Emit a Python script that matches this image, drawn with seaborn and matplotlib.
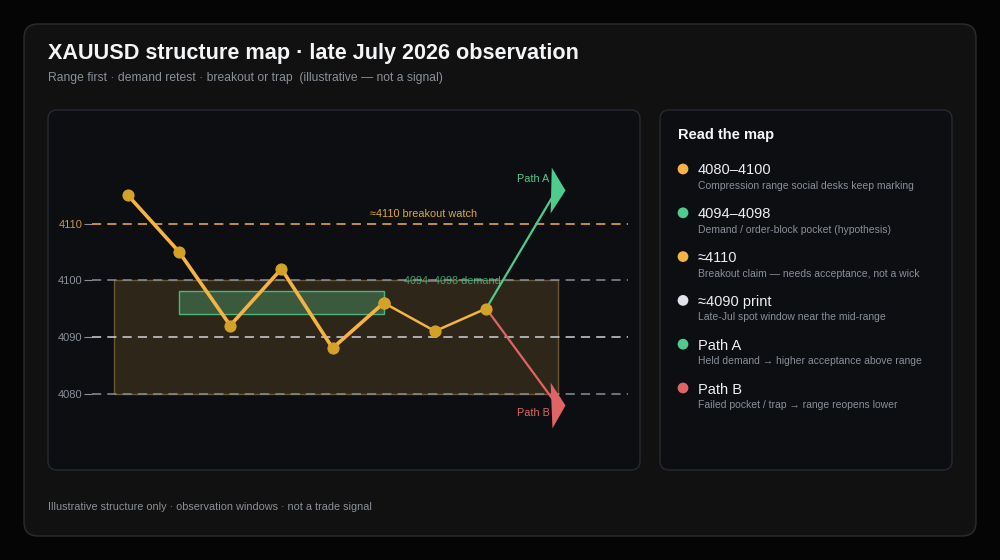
import numpy as np
import pandas as pd
import matplotlib
matplotlib.use("Agg")
import matplotlib.pyplot as plt
from matplotlib.patches import FancyBboxPatch, Rectangle
from matplotlib.path import Path
import seaborn as sns

# ---- data ----
obs_idx = [0, 1, 2, 3, 4, 5, 6, 7]
obs_price = [4115, 4105, 4092, 4102, 4088, 4096, 4091, 4095]
range_low, range_high = 4080, 4100
demand_low, demand_high = 4094, 4098
demand_idx = [1, 5]
breakout_level = 4110
y_ticks = [4080, 4090, 4100, 4110]
path_x = [7, 8.38]
path_a = [4095, 4116]
path_b = [4095, 4078]

legend_titles = ["4080\u20134100", "4094\u20134098", "\u22484110", "\u22484090 print", "Path A", "Path B"]
legend_notes = [
    "Compression range social desks keep marking",
    "Demand / order-block pocket (hypothesis)",
    "Breakout claim \u2014 needs acceptance, not a wick",
    "Late-Jul spot window near the mid-range",
    "Held demand \u2192 higher acceptance above range",
    "Failed pocket / trap \u2192 range reopens lower",
]

# ---- colours ----
ORANGE = "#f5b342"
GOLD = "#d4a229"
GREEN = "#4ecb8d"
RED = "#e06464"
WHITE = "#e0e3ea"
GRAY = "#8a8f99"
legend_colors = [ORANGE, GREEN, ORANGE, WHITE, GREEN, RED]

sns.set_theme(style="dark")
plt.rcParams["font.family"] = ["Liberation Sans", "DejaVu Sans"]

fig = plt.figure(figsize=(10, 5.6), dpi=100)
fig.patch.set_facecolor("#050505")

# background layer in pixel coordinates
bg = fig.add_axes([0, 0, 1, 1])
bg.set_xlim(0, 1000)
bg.set_ylim(560, 0)
bg.axis("off")
bg.set_zorder(0)


def px_box(x0, y0, x1, y1, fc, ec, r=10, lw=1):
    bg.add_patch(FancyBboxPatch((x0, y0), x1 - x0, y1 - y0,
                                boxstyle=f"round,pad=0,rounding_size={r}",
                                facecolor=fc, edgecolor=ec, linewidth=lw))


# card + panels
px_box(24, 24, 976, 536, "#111111", "#2b2d31", r=14)
px_box(48, 110, 640, 470, "#0c0e12", "#262a31", r=9)
px_box(660, 110, 952, 470, "#0c0e12", "#262a31", r=9)

bg.text(48, 54, "XAUUSD structure map \u00b7 late July 2026 observation",
        fontsize=15.6, fontweight="bold", color="#f4f5f7", va="center")
bg.text(48, 77.5,
        "Range first \u00b7 demand retest \u00b7 breakout or trap  (illustrative \u2014 not a signal)",
        fontsize=8.7, color=GRAY, va="center")
bg.text(48, 507.5,
        "Illustrative structure only \u00b7 observation windows \u00b7 not a trade signal",
        fontsize=7.85, color=GRAY, va="center")

# ---- legend panel ----
bg.text(678, 135.5, "Read the map", fontsize=10.5, fontweight="bold",
        color="#f4f5f7", va="center")
for i, (t, n, c) in enumerate(zip(legend_titles, legend_notes, legend_colors)):
    y = 169 + i * 43.8
    bg.scatter([683], [y], s=60, color=c, edgecolors="none")
    bg.text(698, y + 1.5, t, fontsize=10.5, color="#eceef2", va="center")
    bg.text(698, y + 17, n, fontsize=7.45, color=GRAY, va="center")

# ---- chart ----
ax = fig.add_axes([0.092, 1 - 461.5 / 560, 0.536, 340 / 560])
ax.set_zorder(2)
ax.set_facecolor("none")
for s in ax.spines.values():
    s.set_visible(False)
ax.set_xlim(-0.7, 9.77)
ax.set_ylim(4068, 4128)
ax.set_xticks([])
ax.set_yticks(y_ticks)
ax.tick_params(axis="y", length=6, width=0.8, color=GRAY, labelsize=8,
               labelcolor=GRAY, pad=1, left=True)
ax.get_yticklabels()[-1].set_color("#c9993a")
ax.grid(False)

grid_colors = {4080: GRAY, 4090: "#d0d3da", 4100: GRAY, 4110: ORANGE}
for lvl in y_ticks:
    ax.axhline(lvl, color=grid_colors[lvl], lw=1.1, ls=(0, (6, 4)), zorder=1)

ax.add_patch(Rectangle((-0.27, range_low), 8.67, range_high - range_low,
                       facecolor="#c9993a", alpha=0.18, edgecolor="none", zorder=0.5))
ax.add_patch(Rectangle((-0.27, range_low), 8.67, range_high - range_low,
                       facecolor="none", edgecolor="#6b5530", lw=1, zorder=0.6))
ax.add_patch(Rectangle((demand_idx[0], demand_low), demand_idx[1] - demand_idx[0],
                       demand_high - demand_low, facecolor="#3d6244", alpha=0.85,
                       edgecolor=GREEN, lw=1, zorder=2))

df = pd.DataFrame({"idx": obs_idx, "price": obs_price})
sns.lineplot(data=df.iloc[:6], x="idx", y="price", ax=ax, color=ORANGE, lw=2.6,
             marker="o", markersize=8, markerfacecolor=GOLD, markeredgecolor=GOLD,
             zorder=4)
sns.lineplot(data=df.iloc[5:], x="idx", y="price", ax=ax, color=ORANGE, lw=1.8,
             marker="o", markersize=8, markerfacecolor=GOLD, markeredgecolor=GOLD,
             zorder=4)
ax.set_xlabel("")
ax.set_ylabel("")

head_a = Path([(-0.25, 1.0), (0.35, 0.0), (-0.3, -1.0), (-0.25, 1.0)],
              [Path.MOVETO, Path.LINETO, Path.LINETO, Path.CLOSEPOLY])
head_b = Path([(-0.3, 1.0), (0.35, 0.0), (-0.22, -1.0), (-0.3, 1.0)],
              [Path.MOVETO, Path.LINETO, Path.LINETO, Path.CLOSEPOLY])
ax.plot(path_x, path_a, color=GREEN, lw=1.6, zorder=3)
ax.plot(path_x[-1], path_a[-1], marker=head_a, markersize=33, color=GREEN,
        markeredgewidth=0, zorder=3)
ax.plot(path_x, path_b, color=RED, lw=1.6, zorder=3)
ax.plot(path_x[-1], path_b[-1], marker=head_b, markersize=33, color=RED,
        markeredgewidth=0, zorder=3)

ax.text(8.24, 4117.8, "Path A", color=GREEN, fontsize=7.8, ha="right", va="center")
ax.text(8.24, 4076.5, "Path B", color=RED, fontsize=7.8, ha="right", va="center")
ax.text(5.78, 4111.6, "\u22484110 breakout watch", color="#e0a83a", fontsize=7.8,
        ha="center", va="center")
ax.text(5.39, 4099.8, "4094\u20134098 demand", color=GREEN, alpha=0.75, fontsize=7.8,
        ha="left", va="center")

fig.savefig("out.png", dpi=100, facecolor=fig.get_facecolor())
